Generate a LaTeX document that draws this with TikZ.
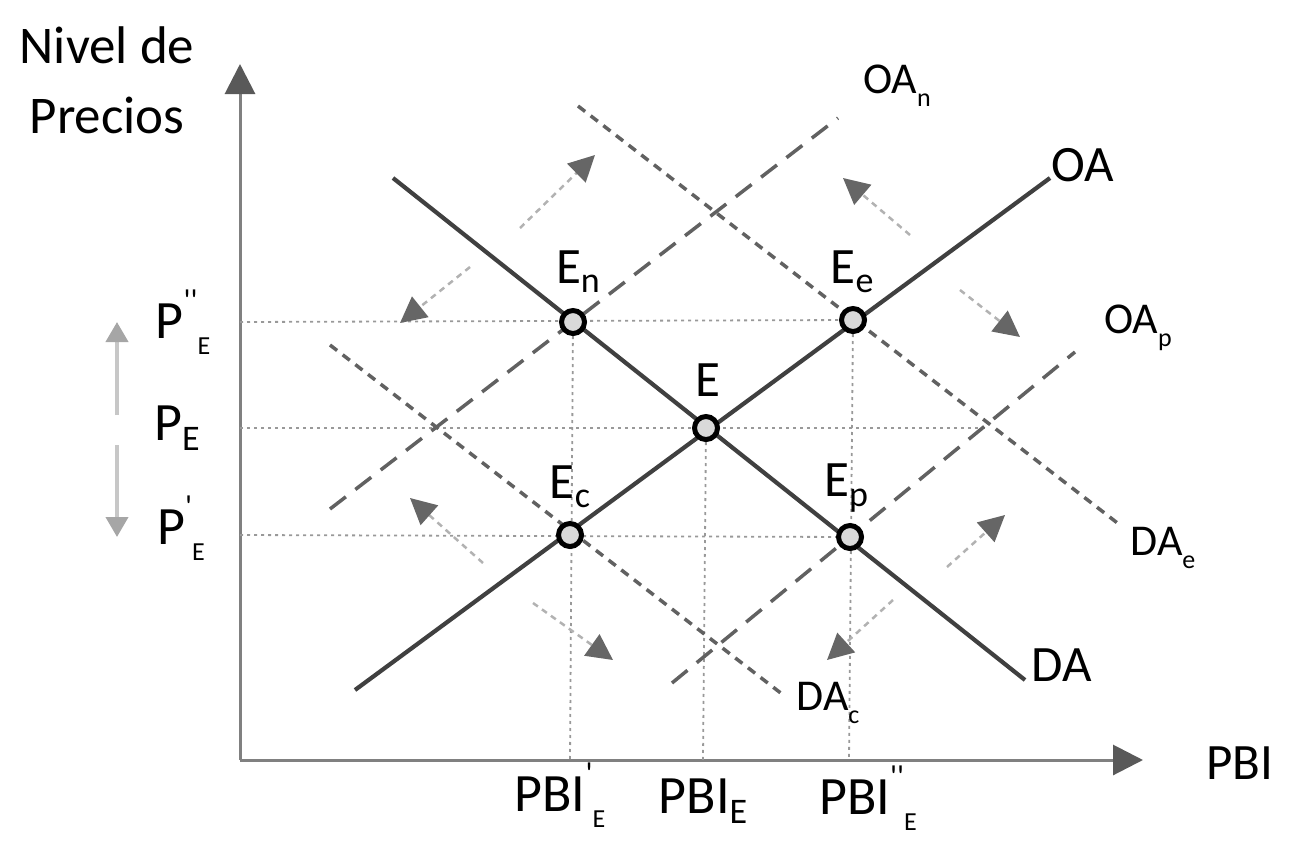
\documentclass[tikz,border=0pt]{standalone}
\usepackage{fontspec}
\setmainfont{Carlito}
\usetikzlibrary{arrows.meta}
\newcommand\lsub[1]{\raisebox{-0.18em}{\fontsize{36}{36}\selectfont #1}}
\newcommand\ssub[1]{\raisebox{-0.3em}{\fontsize{26}{26}\selectfont #1}}
\newcommand\tsup[1]{\raisebox{0.5em}{\fontsize{32}{32}\selectfont #1}}
\newcommand\qq{\textquotesingle}
\begin{document}
\begin{tikzpicture}[x=1pt,y=-1pt,
  solidline/.style={draw=black!75,line width=4.2pt},
  dashOA/.style={draw=black!62,line width=3.5pt,dash pattern=on 20pt off 12pt},
  dashDA/.style={draw=black!62,line width=3.5pt,dash pattern=on 9pt off 7pt},
  guide/.style={draw=black!40,line width=1.8pt,dash pattern=on 3pt off 4pt},
  axisline/.style={draw=black!50,line width=3pt},
  eqpt/.style={circle,draw=black,line width=5pt,fill=black!15,minimum size=23pt,inner sep=0pt},
  move/.style={draw=black!30,line width=2.5pt,dash pattern=on 6pt off 5pt,
     -{Triangle[length=26pt,width=26pt,color=black!60]}},
  parrow/.style={draw=black!22,line width=4pt,-{Triangle[length=20pt,width=22pt,color=black!35]}},
  big/.style={font=\fontsize{51}{60}\selectfont,inner sep=0pt},
  mid/.style={font=\fontsize{54}{60}\selectfont,inner sep=0pt},
  small/.style={font=\fontsize{44}{50}\selectfont,inner sep=0pt}]
\useasboundingbox (0,0) rectangle (1294,841);
% axes
\coordinate (O) at (240,760);
\coordinate (ytop) at (240,64);
\coordinate (xend) at (1143,760);
\draw[axisline,-{Triangle[length=30pt,width=30pt,color=black!65]}] (O) -- (ytop);
\draw[axisline,-{Triangle[length=30pt,width=30pt,color=black!65]}] (O) -- (xend);
% equilibrium points
\coordinate (En) at (573,322);
\coordinate (Ee) at (853,320);
\coordinate (E) at (706,428);
\coordinate (Ec) at (570,535);
\coordinate (Ep) at (850,537);
% guide lines
\coordinate (yA) at (240,322);
\coordinate (yB) at (240,428);
\coordinate (yC) at (240,535);
\coordinate (gB) at (985,428);
\coordinate (xA) at (570,760);
\coordinate (xB) at (703,760);
\coordinate (xC) at (849,760);
\draw[guide] (yA) -- (Ee);
\draw[guide] (yB) -- (gB);
\draw[guide] (yC) -- (Ep);
\draw[guide] (En) -- (xA);
\draw[guide] (E) -- (xB);
\draw[guide] (Ee) -- (xC);
% curves
\coordinate (OA1) at (355,690); \coordinate (OA2) at (1050,178);
\coordinate (DA1) at (393,178); \coordinate (DA2) at (1025,680);
\coordinate (OAn1) at (330,509); \coordinate (OAn2) at (838,118);
\coordinate (OAp1) at (672,683); \coordinate (OAp2) at (1075,352);
\coordinate (DAe1) at (578,106); \coordinate (DAe2) at (1120,525);
\coordinate (DAc1) at (330,345); \coordinate (DAc2) at (782,694);
\draw[dashOA] (OAn1) -- (OAn2);
\draw[dashOA] (OAp1) -- (OAp2);
\draw[dashDA] (DAe1) -- (DAe2);
\draw[dashDA] (DAc1) -- (DAc2);
\draw[solidline] (OA1) -- (OA2);
\draw[solidline] (DA1) -- (DA2);
% movement arrows
\coordinate (a1s) at (520,228); \coordinate (a1e) at (595,155);
\coordinate (a2s) at (470,267); \coordinate (a2e) at (400,323);
\coordinate (a3s) at (910,235); \coordinate (a3e) at (843,178);
\coordinate (a4s) at (960,290); \coordinate (a4e) at (1020,337);
\coordinate (a5s) at (483,563); \coordinate (a5e) at (410,498);
\coordinate (a6s) at (533,603); \coordinate (a6e) at (613,660);
\coordinate (a7s) at (893,600); \coordinate (a7e) at (827,660);
\coordinate (a8s) at (947,567); \coordinate (a8e) at (1005,515);
\foreach \i in {1,...,8} \draw[move] (a\i s) -- (a\i e);
% price arrows
\coordinate (pm1) at (117,415); \coordinate (pu) at (117,322);
\coordinate (pm2) at (117,445); \coordinate (pd) at (117,537);
\draw[parrow] (pm1) -- (pu);
\draw[parrow] (pm2) -- (pd);
% points
\node[eqpt] (nEn) at (En) {};
\node[eqpt] (nEe) at (Ee) {};
\node[eqpt] (nE) at (E) {};
\node[eqpt] (nEc) at (Ec) {};
\node[eqpt] (nEp) at (Ep) {};
% labels
\node[big] (lEn) at (578,272) {E\lsub{n}};
\node[big] (lEe) at (852,272) {E\lsub{e}};
\node[big] (lE) at (708,380) {E};
\node[big] (lEc) at (570,487) {E\lsub{c}};
\node[big] (lEp) at (846,488) {E\lsub{p}};
\node[big] (lOA) at (1083,165) {OA};
\node[big] (lDA) at (1062,665) {DA};
\node[big] (lPBI) at (1240,763) {PBI};
\node[small] (lOAn) at (897,86) {OA\ssub{n}};
\node[small] (lOAp) at (1138,328) {OA\ssub{p}};
\node[small] (lDAe) at (1163,548) {DA\ssub{e}};
\node[small] (lDAc) at (828,703) {DA\ssub{c}};
\node[big,align=center,font=\fontsize{53}{70}\selectfont] (lNivel) at (107,80) {Nivel de\\Precios};
\node[mid] (lPa) at (183,322) {P\tsup{\qq\qq}\ssub{E}};
\node[mid] (lPb) at (177,428) {P\lsub{E}};
\node[mid] (lPc) at (181,528) {P\tsup{\qq}\ssub{E}};
\node[mid] (lX1) at (560,795) {PBI\tsup{\qq}\ssub{E}};
\node[mid] (lX2) at (703,801) {PBI\lsub{E}};
\node[mid] (lX3) at (868,798) {PBI\tsup{\qq\qq}\ssub{E}};
\end{tikzpicture}
\end{document}
